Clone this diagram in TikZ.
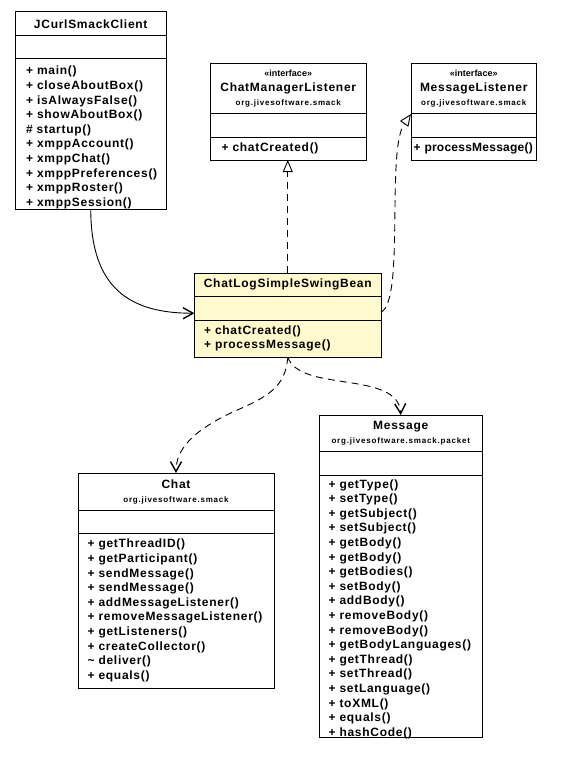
\documentclass[tikz,border=0pt]{standalone}
\usepackage{fontspec}
\setmainfont{Liberation Sans}[LetterSpace=6]
\newfontfamily\pkgfont{Liberation Sans}[LetterSpace=10]
\newfontfamily\stereofont{Liberation Sans}
\usetikzlibrary{positioning, arrows.meta}
\definecolor{BeanYellow}{RGB}{255, 250, 205}
\hyphenpenalty=10000
\newcommand{\pkgline}[1]{{\pkgfont\bfseries\fontsize{8}{14.5}\selectfont #1}}
\newcommand{\stereoline}{{\stereofont\bfseries\fontsize{9}{14.5}\selectfont «interface»}}

\begin{document}
\begin{tikzpicture}[x=1pt, y=-1pt]
  \tikzstyle{head} = [draw, line width=1pt, outer sep=0pt, inner sep=0pt, align=center,
    font=\bfseries\fontsize{12}{14.5}\selectfont]
  \tikzstyle{attr} = [draw, line width=1pt, outer sep=0pt, inner sep=0pt, minimum height=23pt]
  \tikzstyle{ops} = [draw, line width=1pt, outer sep=0pt, inner xsep=9.5pt, inner ysep=0pt,
    align=left, font=\bfseries\fontsize{12}{14.6}\selectfont]
  \tikzstyle{assoc} = [line width=0.9pt, -{Straight Barb[length=10pt, width=11pt, line width=1.4pt]}]
  \tikzstyle{depend} = [assoc, dash pattern=on 7pt off 5pt]
  \tikzstyle{realize} = [line width=0.9pt, dash pattern=on 7pt off 5pt,
    -{Triangle[open, length=12pt, width=10pt]}]

  \useasboundingbox (0,0) rectangle (571,757);

  % Cliente
  \node[head, minimum width=150.5pt, minimum height=24pt, anchor=north west] (jcurl) at (15.5,12) {JCurlSmackClient};
  \node[attr, minimum width=150.5pt, below=0pt of jcurl] (jcurl-attr) {};
  \node[ops, inner xsep=10.5pt, text width=129.5pt, minimum height=150pt, text depth=127pt, below=0pt of jcurl-attr] (jcurl-ops)
    {+ main()\\+ closeAboutBox()\\+ isAlwaysFalse()\\+ showAboutBox()\\\# startup()\\
     + xmppAccount()\\+ xmppChat()\\+ xmppPreferences()\\+ xmppRoster()\\+ xmppSession()};

  % Interfaces
  \node[head, minimum width=155.5pt, minimum height=50pt, anchor=north west] (cml) at (210.5,64)
    {\stereoline\\ChatManagerListener\\\pkgline{org.jivesoftware.smack}};
  \node[attr, minimum width=155.5pt, minimum height=23.5pt, below=0pt of cml] (cml-attr) {};
  \node[ops, inner xsep=11pt, text width=133.5pt, minimum height=22.5pt, below=0pt of cml-attr] (cml-ops) {+ chatCreated()};

  \node[head, minimum width=125.5pt, minimum height=50pt, anchor=north west] (ml) at (411,64)
    {\stereoline\\MessageListener\\\pkgline{org.jivesoftware.smack}};
  \node[attr, minimum width=125.5pt, minimum height=23.5pt, below=0pt of ml] (ml-attr) {};
  \node[ops, inner xsep=2.5pt, text width=120.5pt, minimum height=22.5pt, below=0pt of ml-attr] (ml-ops)
    {\addfontfeatures{LetterSpace=2}+ processMessage()};

  % Clase central
  \node[head, fill=BeanYellow, minimum width=186.5pt, minimum height=23.5pt, anchor=north west] (bean) at (194.5,273)
    {ChatLogSimpleSwingBean};
  \node[attr, fill=BeanYellow, minimum width=186.5pt, minimum height=23.5pt, below=0pt of bean] (bean-attr) {};
  \node[ops, fill=BeanYellow, text width=167.5pt, minimum height=37pt, below=0pt of bean-attr] (bean-ops)
    {+ chatCreated()\\+ processMessage()};

  % Chat y Message
  \node[head, minimum width=196pt, minimum height=37.5pt, anchor=north west] (chat) at (78,473)
    {Chat\\\pkgline{org.jivesoftware.smack}};
  \node[attr, minimum width=196pt, minimum height=22.5pt, below=0pt of chat] (chat-attr) {};
  \node[ops, text width=177pt, minimum height=155pt, below=0pt of chat-attr] (chat-ops)
    {+ getThreadID()\\+ getParticipant()\\+ sendMessage()\\+ sendMessage()\\+ addMessageListener()\\
     + removeMessageListener()\\+ getListeners()\\+ createCollector()\\\textasciitilde{} deliver()\\+ equals()};

  \node[head, minimum width=163.5pt, minimum height=36.5pt, anchor=north west] (msg) at (319,415)
    {Message\\\pkgline{org.jivesoftware.smack.packet}};
  \node[attr, minimum width=163.5pt, minimum height=23.5pt, below=0pt of msg] (msg-attr) {};
  \node[ops, text width=144.5pt, minimum height=262.5pt, text depth=245pt, below=0pt of msg-attr] (msg-ops)
    {+ getType()\\+ setType()\\+ getSubject()\\+ setSubject()\\+ getBody()\\+ getBody()\\
     + getBodies()\\+ setBody()\\+ addBody()\\+ removeBody()\\+ removeBody()\\+ getBodyLanguages()\\
     + getThread()\\+ setThread()\\+ setLanguage()\\+ toXML()\\+ equals()\\+ hashCode()};

  % Relaciones
  \draw[assoc] (jcurl-ops.south) .. controls +(0,80) and +(-64,0) .. ([yshift=-5pt]bean-attr.west);
  \draw[realize] (bean.north) -- (bean.north |- cml-ops.south);
  \draw[realize] ([yshift=-4pt]bean-attr.east) .. controls +(24,-12) and (386,150) .. (ml.south west);
  \draw[depend] (bean-ops.south) .. controls +(-2,30) and +(35,-15) .. ++(-55,55)
    .. controls +(-38,18) and +(0,-25) .. (chat.north);
  \draw[depend] (bean-ops.south) .. controls +(12,36) and +(-2,-45) .. (msg.north);
\end{tikzpicture}
\end{document}
